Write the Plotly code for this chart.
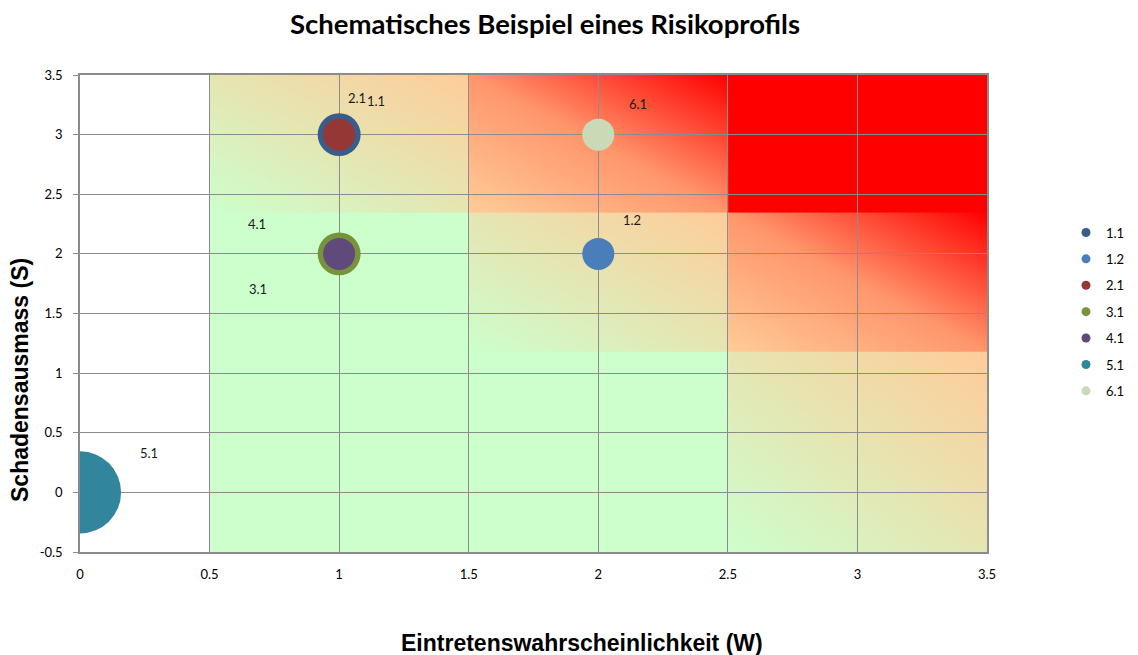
import base64
import struct
import zlib

import numpy as np
import plotly.graph_objects as go

# ---------------- data ----------------
names = ["1.1", "1.2", "2.1", "3.1", "4.1", "5.1", "6.1"]
w_values = [1, 2, 1, 1, 1, 0, 2]          # Eintretenswahrscheinlichkeit (W)
s_values = [3, 2, 3, 2, 2, 0, 3]          # Schadensausmass (S)
bubble_sizes = [1.8, 1.0, 1.0, 1.8, 1.0, 6.6, 1.0]
colors = ["#385D8A", "#4A7EBB", "#953735", "#77933C", "#604A7B", "#31859C", "#CBDAB6"]

x_ticks = [0, 0.5, 1, 1.5, 2, 2.5, 3, 3.5]
y_ticks = [-0.5, 0, 0.5, 1, 1.5, 2, 2.5, 3, 3.5]

# risk zones of the background (boundaries in axis units)
x_zones = [0.5, 1.5, 2.5, 3.5]
y_zones = [-0.5, 1.18, 2.35, 3.5]

# label offsets in pixels (style only)
label_shift = {
    "1.1": (37, 34), "1.2": (34, 34), "2.1": (18, 37), "3.1": (-81, -35),
    "4.1": (-82, 30), "5.1": (69, 39), "6.1": (40, 31),
}

title = "Schematisches Beispiel eines Risikoprofils"
x_title = "Eintretenswahrscheinlichkeit (W)"
y_title = "Schadensausmass (S)"

# ---------------- background gradient image ----------------
GREEN = np.array([204, 255, 204], float)
TAN = np.array([255, 204, 153], float)
SALMON = np.array([255, 150, 108], float)
RED = np.array([255, 0, 0], float)

W_PX, H_PX = 450, 600
x0, x1 = x_zones[0], x_zones[-1]
y0, y1 = y_zones[0], y_zones[-1]
xs = x0 + (np.arange(W_PX) + 0.5) / W_PX * (x1 - x0)
ys = y1 - (np.arange(H_PX) + 0.5) / H_PX * (y1 - y0)
X, Y = np.meshgrid(xs, ys)
xz = np.array(x_zones)
yz = np.array(y_zones)
ci = np.clip(np.searchsorted(xz, X, side="right") - 1, 0, 2)
ri = np.clip(np.searchsorted(yz, Y, side="right") - 1, 0, 2)
u = (X - xz[ci]) / (xz[ci + 1] - xz[ci])
v = (Y - yz[ri]) / (yz[ri + 1] - yz[ri])
level = ci + ri + (u + v) / 2.0
stops = [2.0, 3.0, 3.5, 4.0]
cols = [GREEN, TAN, SALMON, RED]
rgb = np.zeros((H_PX, W_PX, 3))
for k in range(3):
    rgb[..., k] = np.interp(level, stops, [c[k] for c in cols])
rgb = np.clip(np.round(rgb), 0, 255).astype(np.uint8)


def png_data_uri(img):
    h, w, _ = img.shape
    raw = b"".join(b"\x00" + img[i].tobytes() for i in range(h))

    def chunk(tag, data):
        c = struct.pack(">I", len(data)) + tag + data
        return c + struct.pack(">I", zlib.crc32(tag + data) & 0xFFFFFFFF)

    png = (b"\x89PNG\r\n\x1a\n"
           + chunk(b"IHDR", struct.pack(">IIBBBBB", w, h, 8, 2, 0, 0, 0))
           + chunk(b"IDAT", zlib.compress(raw, 9))
           + chunk(b"IEND", b""))
    return "data:image/png;base64," + base64.b64encode(png).decode()


bg_uri = png_data_uri(rgb)

# page body has an 8px default margin -> figure is shifted by that amount
OFF = 8
FIG_W, FIG_H = 1138 - OFF, 655 - OFF
PLOT_L, PLOT_T, PLOT_W, PLOT_H = 80 - OFF, 75 - OFF, 907, 477

# ---------------- figure ----------------
fig = go.Figure()
SIZEREF = 1 / 512.0
for n, xv, yv, sz, c in zip(names, w_values, s_values, bubble_sizes, colors):
    fig.add_trace(go.Scatter(
        x=[xv], y=[yv], mode="markers", name=n, legendgroup=n, showlegend=False,
        marker=dict(size=[sz], sizemode="area", sizeref=SIZEREF, color=c,
                    line=dict(width=0), opacity=1),
        cliponaxis=True, hoverinfo="name",
    ))
for n, c in zip(names, colors):
    fig.add_trace(go.Scatter(
        x=[None], y=[None], mode="markers", name=n, legendgroup=n,
        marker=dict(size=9, color=c), showlegend=True,
    ))

annotations = []
for n, xv, yv in zip(names, w_values, s_values):
    dx, dy = label_shift[n]
    annotations.append(dict(x=xv, y=yv, xref="x", yref="y", text=n, showarrow=False,
                            xshift=dx, yshift=dy,
                            font=dict(family="Lato", size=13, color="#1a1a1a")))
annotations.append(dict(x=(582 - 80) / 907, y=(552 - 643) / 477, xref="paper", yref="paper",
                        text="<b>" + x_title + "</b>", showarrow=False,
                        xanchor="center", yanchor="middle",
                        font=dict(family="Liberation Sans", size=23, color="#000")))
annotations.append(dict(x=(20 - 80) / 907, y=(552 - 380) / 477, xref="paper", yref="paper",
                        text="<b>" + y_title + "</b>", showarrow=False, textangle=-90,
                        xanchor="center", yanchor="middle",
                        font=dict(family="Liberation Sans", size=23, color="#000")))

fig.update_layout(
    width=FIG_W, height=FIG_H,
    margin=dict(l=PLOT_L, r=FIG_W - PLOT_L - PLOT_W, t=PLOT_T, b=FIG_H - PLOT_T - PLOT_H,
                autoexpand=False),
    paper_bgcolor="white", plot_bgcolor="white",
    title=dict(text="<b>" + title + "</b>", x=(545 - OFF) / FIG_W, xanchor="center",
               y=1 - (24 - OFF) / FIG_H, yanchor="middle", yref="container",
               font=dict(family="Lato", size=27.5, color="#000")),
    showlegend=True,
    legend=dict(x=(1066 - 80) / 907, y=(552 - 312) / 477, xanchor="left", yanchor="middle",
                font=dict(family="Lato", size=13, color="#000"),
                tracegroupgap=6.5, bgcolor="rgba(0,0,0,0)"),
    annotations=annotations,
    images=[dict(source=bg_uri, xref="x", yref="y", x=x_zones[0], y=y_zones[-1],
                 sizex=x_zones[-1] - x_zones[0], sizey=y_zones[-1] - y_zones[0],
                 xanchor="left", yanchor="top", sizing="stretch", layer="below")],
)
fig.update_xaxes(range=[0, 3.5], tickvals=x_ticks, ticktext=[f"{t:g}" for t in x_ticks],
                 showgrid=True, gridcolor="#8C8C8C", gridwidth=1, zeroline=False,
                 showline=True, linecolor="#8C8C8C", linewidth=1.5, mirror=True,
                 ticks="", ticklabelstandoff=10,
                 tickfont=dict(family="Lato", size=13, color="#000"))
fig.update_yaxes(range=[-0.5, 3.5], tickvals=y_ticks, ticktext=[f"{t:g}" for t in y_ticks],
                 showgrid=True, gridcolor="#8C8C8C", gridwidth=1, zeroline=False,
                 showline=True, linecolor="#8C8C8C", linewidth=1.5, mirror=True,
                 ticks="outside", ticklen=5, tickcolor="#8C8C8C", ticklabelstandoff=8,
                 tickfont=dict(family="Lato", size=13, color="#000"))

fig.write_html("out.html")
